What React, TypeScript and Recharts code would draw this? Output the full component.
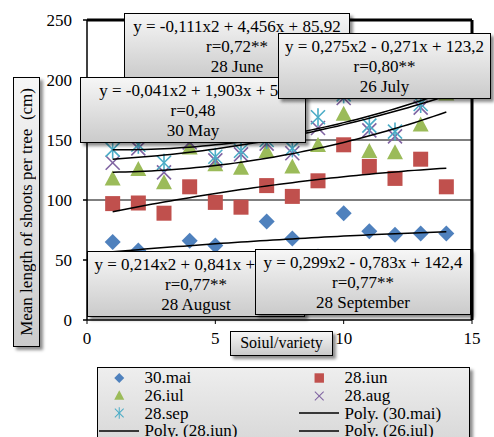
import React from "react";
import {
  ScatterChart, Scatter, XAxis, YAxis, CartesianGrid, ReferenceLine,
} from "recharts";

const varieties = [1, 2, 3, 4, 5, 6, 7, 8, 9, 10, 11, 12, 13, 14];
const may30 = [65, 58, 48, 66, 62, 50, 82, 68, 53, 89, 74, 71, 72, 72];
const jun28 = [97, 97.5, 89, 111, 98, 94, 112, 103, 116, 146, 128, 118, 134, 111];
const jul26 = [117, 125, 114, 143, 129, 126, 140, 127, 145, 171, 140, 139, 162, 188];
const aug28 = [131, 143, 123, 148, 133, 138, 147, 139, 160, 185, 158, 153, 177, 190];
const sep28 = [142, 146, 131, 155, 136, 141, 150, 143, 169, 188, 162, 157, 180, 195];

// trendline coefficients as printed on the chart (a, b, c for ax2 + bx + c)
const coefMay = [-0.041, 1.903, 55];
const coefJun = [-0.111, 4.456, 85.92];
const coefJul = [0.275, -0.271, 123.2];
const coefAug = [0.214, 0.841, 133];
const coefSep = [0.299, -0.783, 142.4];

const xTicks = [0, 5, 10, 15];
const yTicks = [0, 50, 100, 150, 200, 250];

const SERIF = '"Liberation Serif", "Times New Roman", serif';

const pts = (vals: number[]) => varieties.map((x, i) => ({ x, y: vals[i] }));
const trend = (c: number[]) => {
  const out: { x: number; y: number }[] = [];
  for (let x = 1; x <= 14.001; x += 0.25) out.push({ x, y: c[0] * x * x + c[1] * x + c[2] });
  return out;
};

const Diamond = ({ cx, cy }: any) => (
  <polygon points={`${cx},${cy - 8} ${cx + 8},${cy} ${cx},${cy + 8} ${cx - 8},${cy}`} fill="#4F81BD" />
);
const Square = ({ cx, cy }: any) => <rect x={cx - 7.5} y={cy - 7.5} width={15} height={15} fill="#C0504D" />;
const Tri = ({ cx, cy }: any) => (
  <polygon points={`${cx},${cy - 9} ${cx + 8},${cy + 6} ${cx - 8},${cy + 6}`} fill="#9BBB59" />
);
const XMark = ({ cx, cy }: any) => (
  <g stroke="#8064A2" strokeWidth={1.6}>
    <line x1={cx - 7} y1={cy - 7} x2={cx + 7} y2={cy + 7} />
    <line x1={cx - 7} y1={cy + 7} x2={cx + 7} y2={cy - 7} />
  </g>
);
const Star = ({ cx, cy }: any) => (
  <g stroke="#4BACC6" strokeWidth={1.6}>
    <line x1={cx - 7} y1={cy - 7} x2={cx + 7} y2={cy + 7} />
    <line x1={cx - 7} y1={cy + 7} x2={cx + 7} y2={cy - 7} />
    <line x1={cx} y1={cy - 9} x2={cx} y2={cy + 9} />
  </g>
);
const NoDot = () => <g />;

const boxStyle: React.CSSProperties = {
  position: "absolute",
  border: "1.5px solid #000",
  background: "linear-gradient(#f6f6f6, #cbcbcb)",
  boxShadow: "3px 3px 3px rgba(0,0,0,0.45)",
  fontFamily: SERIF,
  fontSize: 17,
  lineHeight: "20px",
  textAlign: "center",
  color: "#000",
  boxSizing: "border-box",
  paddingTop: 3,
  whiteSpace: "nowrap",
  overflow: "hidden",
};

const eqBoxes = [
  { text: ["y = -0,111x2 + 4,456x + 85,92", "r=0,72**", "28 June"], left: 124, top: 13, width: 226 },
  { text: ["y = -0,041x2 + 1,903x + 55", "r=0,48", "30 May"], left: 80, top: 77, width: 226 },
  { text: ["y = 0,275x2 - 0,271x + 123,2", "r=0,80**", "26 July"], left: 278, top: 33, width: 213 },
  { text: ["y = 0,214x2 + 0,841x + 133,0", "r=0,77**", "28 August"], left: 87, top: 251, width: 218 },
  { text: ["y = 0,299x2 - 0,783x + 142,4", "r=0,77**", "28 September"], left: 255, top: 249, width: 216 },
];

const LegendMark = ({ kind }: { kind: string }) => {
  if (kind === "line")
    return (
      <svg width={42} height={10} style={{ display: "block" }}>
        <line x1={0} y1={5} x2={40} y2={5} stroke="#000" strokeWidth={1.5} />
      </svg>
    );
  const S: any = { diamond: Diamond, square: Square, tri: Tri, x: XMark, star: Star }[kind];
  return (
    <svg width={44} height={18} viewBox="0 0 44 18" style={{ display: "block" }}>
      <g transform="translate(22,9) scale(0.65) translate(-22,-9)">
        <S cx={22} cy={9} />
      </g>
    </svg>
  );
};

const legendItems = [
  { name: "30.mai", kind: "diamond" },
  { name: "28.iun", kind: "square" },
  { name: "26.iul", kind: "tri" },
  { name: "28.aug", kind: "x" },
  { name: "28.sep", kind: "star" },
  { name: "Poly. (30.mai)", kind: "line" },
  { name: "Poly. (28.iun)", kind: "line" },
  { name: "Poly. (26.iul)", kind: "line" },
  { name: "Poly. (28.aug)", kind: "line" },
  { name: "Poly. (28.sep)", kind: "line" },
];

const tickStyle = { fontSize: 17, fill: "#000", fontFamily: SERIF };
const lineStyle = { stroke: "#000", strokeWidth: 1.5 };

export default function App() {
  return (
    <div style={{ position: "absolute", left: 0, top: 0, width: 494, height: 437, overflow: "hidden", background: "#fff" }}>
      <ScatterChart width={494} height={437} margin={{ top: 20, right: 22, left: 27, bottom: 87 }}>
        <CartesianGrid vertical={false} stroke="#000" strokeWidth={1} />
        <XAxis
          type="number" dataKey="x" domain={[0, 15]} ticks={xTicks} height={30}
          tick={tickStyle} tickSize={4} tickMargin={8} stroke="#000"
        />
        <YAxis
          type="number" dataKey="y" domain={[0, 250]} ticks={yTicks} width={60}
          tick={tickStyle} tickSize={4} tickMargin={11} stroke="#000" strokeWidth={1.5}
        />
        <ReferenceLine y={250} stroke="#000" strokeWidth={3} />
        <ReferenceLine x={15} stroke="#000" strokeWidth={3} />
        <Scatter data={pts(may30)} shape={Diamond} isAnimationActive={false} />
        <Scatter data={pts(jun28)} shape={Square} isAnimationActive={false} />
        <Scatter data={pts(jul26)} shape={Tri} isAnimationActive={false} />
        <Scatter data={pts(aug28)} shape={XMark} isAnimationActive={false} />
        <Scatter data={pts(sep28)} shape={Star} isAnimationActive={false} />
        <Scatter data={trend(coefMay)} line={lineStyle} shape={NoDot} isAnimationActive={false} />
        <Scatter data={trend(coefJun)} line={lineStyle} shape={NoDot} isAnimationActive={false} />
        <Scatter data={trend(coefJul)} line={lineStyle} shape={NoDot} isAnimationActive={false} />
        <Scatter data={trend(coefAug)} line={lineStyle} shape={NoDot} isAnimationActive={false} />
        <Scatter data={trend(coefSep)} line={lineStyle} shape={NoDot} isAnimationActive={false} />
      </ScatterChart>

      {eqBoxes.map((b, i) => (
        <div key={i} style={{ ...boxStyle, left: b.left, top: b.top, width: b.width, height: 66 }}>
          {b.text.map((t, j) => <div key={j}>{t}</div>)}
        </div>
      ))}

      <div
        style={{
          ...boxStyle, left: 13, top: 77, width: 27, height: 270, paddingTop: 0,
          display: "flex", alignItems: "center", justifyContent: "center",
        }}
      >
        <div style={{ writingMode: "vertical-rl", transform: "rotate(180deg)", whiteSpace: "pre" }}>
          {"Mean length of shoots per tree  (cm)"}
        </div>
      </div>

      <div style={{ ...boxStyle, left: 230, top: 331, width: 103, height: 25, paddingTop: 1, fontSize: 16 }}>
        Soiul/variety
      </div>

      <div
        style={{
          ...boxStyle, left: 97, top: 367, width: 373, height: 90, paddingTop: 1,
          background: "linear-gradient(#eeeeee, #d4d4d4)", textAlign: "left", fontSize: 17,
          display: "grid", gridTemplateColumns: "200px 173px", gridAutoRows: "17.7px",
        }}
      >
        {legendItems.map((it) => (
          <div key={it.name} style={{ display: "flex", alignItems: "center", lineHeight: "17px" }}>
            <div style={{ width: 42.5, display: "flex", justifyContent: "flex-end" }}>
              <LegendMark kind={it.kind} />
            </div>
            <span style={{ marginLeft: 4 }}>{it.name}</span>
          </div>
        ))}
      </div>
    </div>
  );
}
